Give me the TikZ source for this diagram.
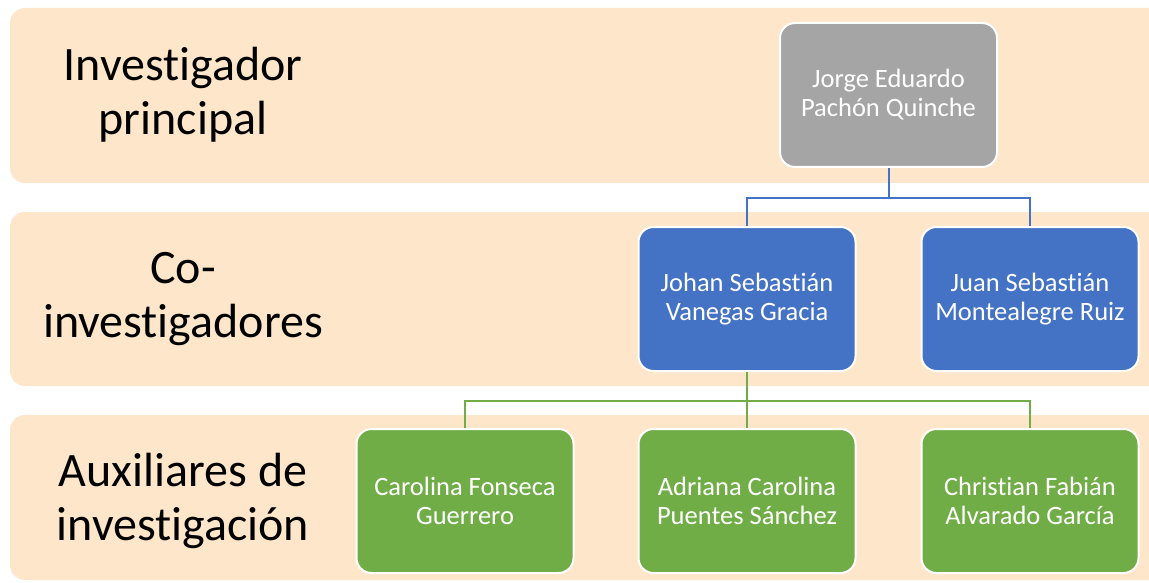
\documentclass[tikz,border=0pt]{standalone}
\usepackage{fontspec}
\setmainfont{Carlito}[Ligatures={NoCommon,NoRare,NoContextual}]
\usepackage{xcolor}
\definecolor{bandfill}{HTML}{FEE6CB}
\definecolor{pigray}{HTML}{A5A5A5}
\definecolor{coblue}{HTML}{4472C4}
\definecolor{auxgreen}{HTML}{70AD47}
\tikzset{
    band/.style={fill=bandfill, rounded corners=15pt},
    rolelabel/.style={align=center, font=\fontsize{48}{54}\selectfont},
    person/.style={draw=white, line width=2pt, rounded corners=15pt, minimum width=217pt, minimum height=144pt, align=center, text=white, font=\fontsize{26.5}{29}\selectfont},
    bluelink/.style={draw=coblue, line width=2pt},
    greenlink/.style={draw=auxgreen, line width=2pt}
}

\begin{document}
\begin{tikzpicture}[x=1pt, y=-1pt]

        \useasboundingbox (0,0) rectangle (1149,583);
        \clip (0,0) rectangle (1149,583);

        % background bands
        \fill[band] (10,8) rectangle (1170,183);
        \fill[band] (10,212) rectangle (1170,386);
        \fill[band] (10,415) rectangle (1170,580);

        \node[rolelabel] (lab1) at (183,95) {Investigador\\principal};
        \node[rolelabel] (lab2) at (183,299) {Co-\\investigadores};
        \node[rolelabel] (lab3) at (183,501) {Auxiliares de\\investigación};

        \node[person, fill=pigray] (pi) at (888.5,95) {Jorge Eduardo\\Pachón Quinche};

        \node[person, fill=coblue] (co1) at (747,299) {Johan Sebastián\\Vanegas Gracia};
        \node[person, fill=coblue] (co2) at (1030,299) {Juan Sebastián\\Montealegre Ruiz};

        \node[person, fill=auxgreen] (aux1) at (465,501) {Carolina Fonseca\\Guerrero};
        \node[person, fill=auxgreen] (aux2) at (747,501) {Adriana Carolina\\Puentes Sánchez};
        \node[person, fill=auxgreen] (aux3) at (1030,501) {Christian Fabián\\Alvarado García};

        \draw[bluelink] (pi.south) -- ++(0,30) -| (co1.north);
        \draw[bluelink] (pi.south) -- ++(0,30) -| (co2.north);

        \draw[greenlink] (co1.south) -- ++(0,29) -| (aux1.north);
        \draw[greenlink] (co1.south) -- (aux2.north);
        \draw[greenlink] (co1.south) -- ++(0,29) -| (aux3.north);

    \end{tikzpicture}
\end{document}
